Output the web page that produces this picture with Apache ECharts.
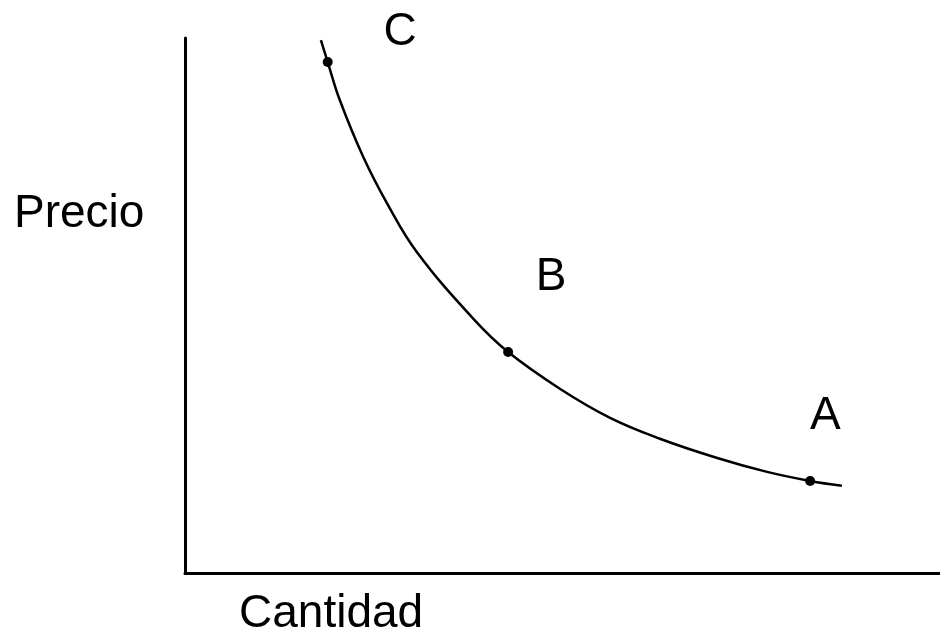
<!DOCTYPE html>
<html>
<head>
<meta charset="utf-8">
<style>
  html, body { margin: 0; padding: 0; background: #fff; }
  #chart { width: 940px; height: 643px; }
</style>
<script src="https://cdn.jsdelivr.net/npm/echarts@6/dist/echarts.min.js"></script>
</head>
<body>
<div id="chart"></div>
<script>
// Demand curve: quantity (x) against price (y), arbitrary units 0-100
const curveQty   = [18.0, 18.9, 20.5, 23.6, 26.8, 30.7, 38.2, 42.8, 49.7, 56.3, 62.9, 70.5, 77.1, 82.8, 87.0];
const curvePrice = [99.6, 95.5, 88.4, 77.8, 69.0, 60.0, 47.5, 41.3, 34.4, 29.0, 25.1, 21.5, 18.9, 17.2, 16.3];

// Marked points on the curve
const pointNames = ['C', 'B', 'A'];
const pointQty   = [18.9, 42.8, 82.8];
const pointPrice = [95.5, 41.3, 17.2];

// Where each point's letter sits
const letterQty   = [28.5, 48.5, 84.8];
const letterPrice = [101.1, 55.3, 29.3];

const axisTitleY = 'Precio';
const axisTitleX = 'Cantidad';

const FONT = '"Liberation Sans", Arial, Helvetica, sans-serif';

const chart = echarts.init(document.getElementById('chart'), null, { renderer: 'canvas' });

const curveData  = curveQty.map((q, i) => [q, curvePrice[i]]);
const pointData  = pointQty.map((q, i) => [q, pointPrice[i]]);
const letterData = letterQty.map((q, i) => ({ value: [letterQty[i], letterPrice[i]], name: pointNames[i] }));

chart.setOption({
  animation: false,
  backgroundColor: '#ffffff',
  grid: { left: 185, top: 38, right: 0, bottom: 70 },
  xAxis: {
    type: 'value', min: 0, max: 100,
    axisLine: { show: true, lineStyle: { color: '#000', width: 3 } },
    axisTick: { show: false }, axisLabel: { show: false }, splitLine: { show: false }
  },
  yAxis: {
    type: 'value', min: 0, max: 100,
    axisLine: { show: true, lineStyle: { color: '#000', width: 3 } },
    axisTick: { show: false }, axisLabel: { show: false }, splitLine: { show: false }
  },
  series: [
    {
      type: 'line',
      data: curveData,
      smooth: 0.4,
      showSymbol: false,
      lineStyle: { color: '#000', width: 2.5 },
      clip: false
    },
    {
      type: 'scatter',
      data: pointData,
      symbol: 'circle',
      symbolSize: 10,
      itemStyle: { color: '#000', opacity: 1 },
      clip: false
    },
    {
      type: 'scatter',
      data: letterData,
      symbolSize: 0,
      clip: false,
      itemStyle: { color: '#000', opacity: 1 },
      label: {
        show: true,
        position: 'inside',
        formatter: p => p.name,
        color: '#000',
        opacity: 1,
        fontFamily: FONT,
        fontSize: 46
      }
    }
  ],
  graphic: [
    {
      type: 'text', left: 14, top: 191,
      style: { text: axisTitleY, fill: '#000', font: '46px ' + FONT }
    },
    {
      type: 'text', left: 239, top: 591,
      style: { text: axisTitleX, fill: '#000', font: '46px ' + FONT }
    }
  ]
});
</script>
</body>
</html>
